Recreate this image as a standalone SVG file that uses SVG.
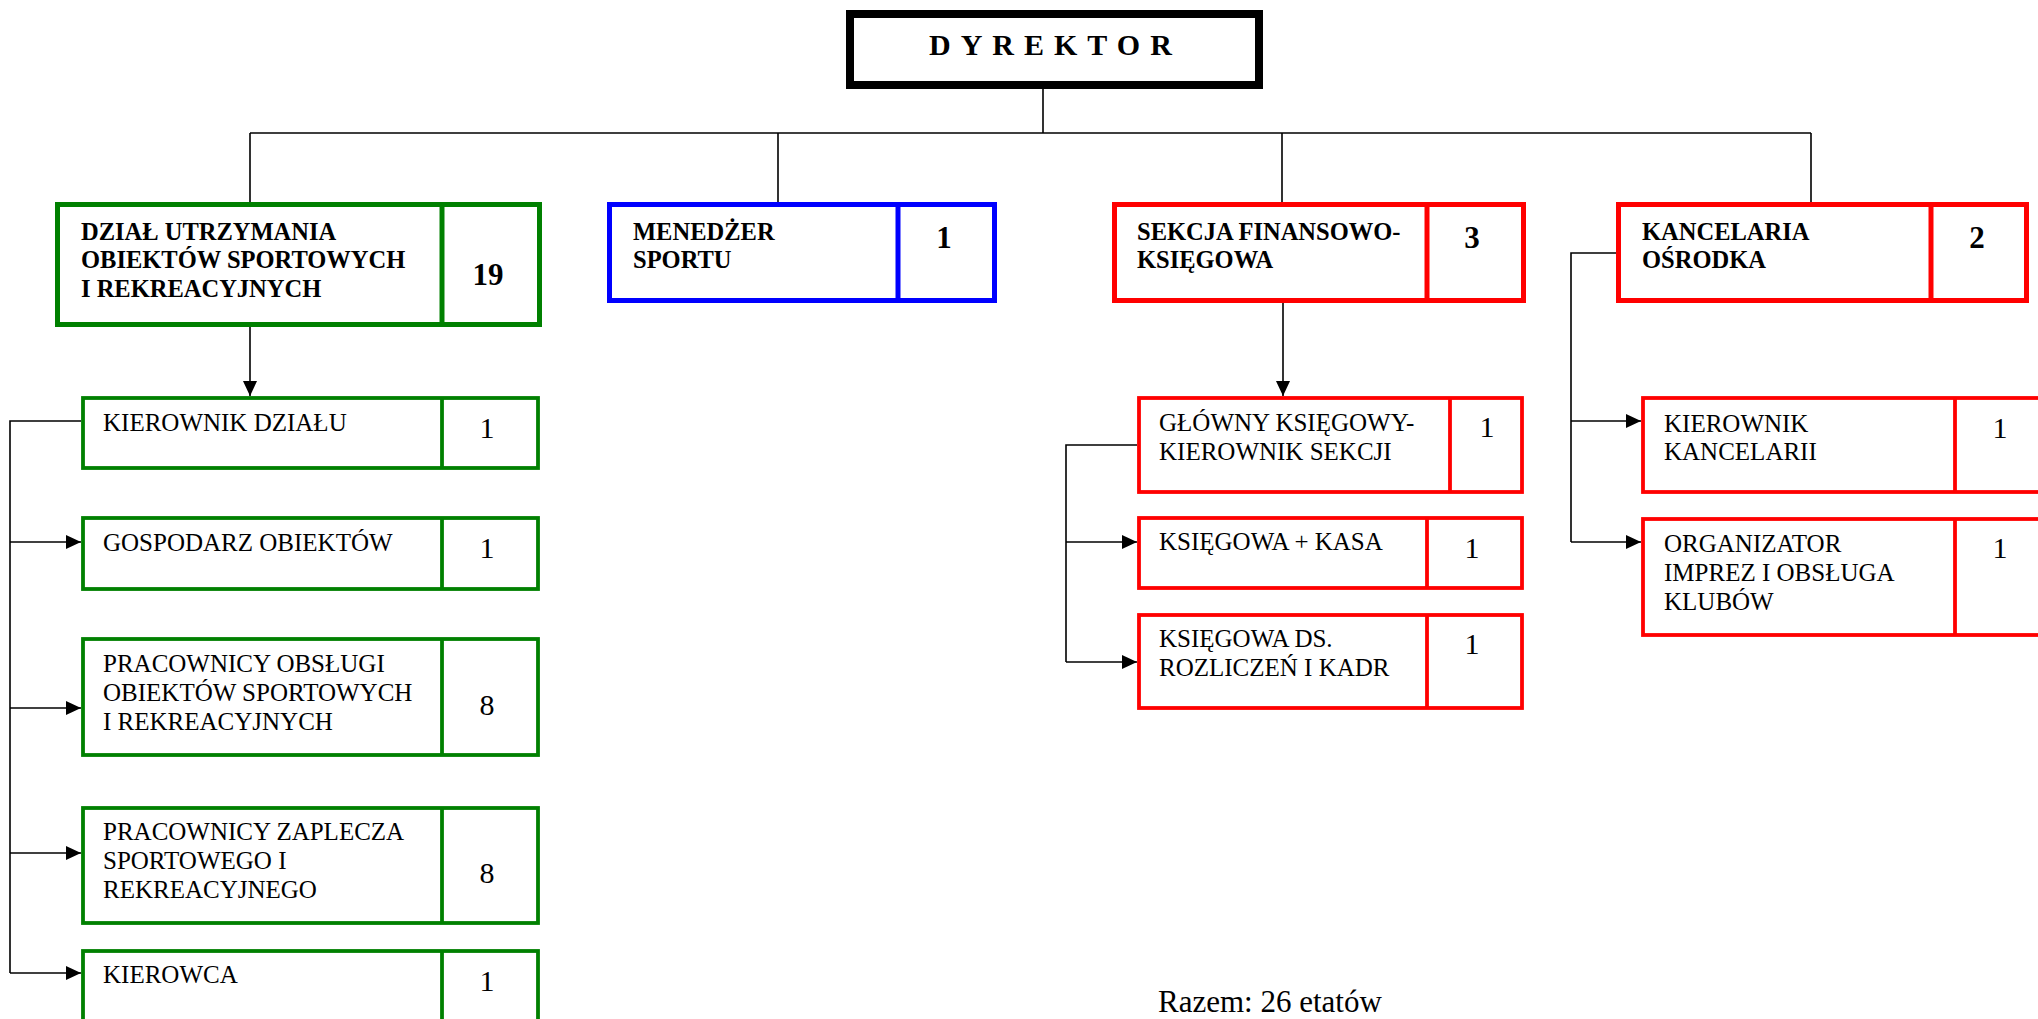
<svg xmlns="http://www.w3.org/2000/svg" width="2038" height="1019" viewBox="0 0 2038 1019">
<defs>
<marker id="arr" markerUnits="userSpaceOnUse" markerWidth="16" markerHeight="16" viewBox="0 0 16 16" refX="15" refY="8" orient="auto">
<path d="M0,1 L15,8 L0,15 Z" fill="#000"/>
</marker>
<style>
.top{fill:#fff;stroke-width:5}
.sub{fill:#fff;stroke-width:3.8}
.g{stroke:#008000}
.b{stroke:#0000ff}
.r{stroke:#ff0000}
.hd{font-family:"Liberation Serif",serif;font-weight:bold;font-size:24.5px;fill:#000}
.tx{font-family:"Liberation Serif",serif;font-size:25px;fill:#000}
.nb{font-family:"Liberation Serif",serif;font-weight:bold;font-size:31px;fill:#000;text-anchor:middle}
.nr{font-family:"Liberation Serif",serif;font-size:30px;fill:#000;text-anchor:middle}
.ln{fill:none;stroke:#000;stroke-width:1.6}
</style>
</defs>
<rect width="2038" height="1019" fill="#fff"/>

<g id="connectors">
<path class="ln" d="M1043,89 V133 M250,133 H1811 M250,133 V202 M778,133 V202 M1282,133 V202 M1811,133 V202"/>
<path class="ln" d="M250,327 V396" marker-end="url(#arr)"/>
<path class="ln" d="M81,421 H10 V973"/>
<path class="ln" d="M10,542 H81" marker-end="url(#arr)"/>
<path class="ln" d="M10,708 H81" marker-end="url(#arr)"/>
<path class="ln" d="M10,853 H81" marker-end="url(#arr)"/>
<path class="ln" d="M10,973 H81" marker-end="url(#arr)"/>
<path class="ln" d="M1283,303 V396" marker-end="url(#arr)"/>
<path class="ln" d="M1137,445 H1066 V662"/>
<path class="ln" d="M1066,542 H1137" marker-end="url(#arr)"/>
<path class="ln" d="M1066,662 H1137" marker-end="url(#arr)"/>
<path class="ln" d="M1616,253 H1571 V542"/>
<path class="ln" d="M1571,421 H1641" marker-end="url(#arr)"/>
<path class="ln" d="M1571,542 H1641" marker-end="url(#arr)"/>
</g>

<g id="dyrektor">
<rect x="850" y="14" width="409" height="71" fill="#fff" stroke="#000" stroke-width="8"/>
<text x="929" y="55" font-family="Liberation Serif,serif" font-weight="bold" font-size="30" letter-spacing="10">DYREKTOR</text>
</g>

<g id="dzial">
<rect class="top g" x="57.5" y="204.5" width="482" height="120"/>
<line class="g" x1="442" y1="204" x2="442" y2="325" stroke-width="5"/>
<text class="hd" x="81" y="240">DZIAŁ UTRZYMANIA</text>
<text class="hd" x="81" y="268">OBIEKTÓW SPORTOWYCH</text>
<text class="hd" x="81" y="297">I REKREACYJNYCH</text>
<text class="nb" x="488" y="285">19</text>
</g>

<g id="menedzer">
<rect class="top b" x="609.5" y="204.5" width="385" height="96"/>
<line class="b" x1="898" y1="204" x2="898" y2="301" stroke-width="5"/>
<text class="hd" x="633" y="240">MENEDŻER</text>
<text class="hd" x="633" y="268">SPORTU</text>
<text class="nb" x="944" y="248">1</text>
</g>

<g id="sekcja">
<rect class="top r" x="1114.5" y="204.5" width="409" height="96"/>
<line class="r" x1="1427" y1="204" x2="1427" y2="301" stroke-width="5"/>
<text class="hd" x="1137" y="240">SEKCJA FINANSOWO-</text>
<text class="hd" x="1137" y="268">KSIĘGOWA</text>
<text class="nb" x="1472" y="248">3</text>
</g>

<g id="kancelaria">
<rect class="top r" x="1618.5" y="204.5" width="408" height="96"/>
<line class="r" x1="1931" y1="204" x2="1931" y2="301" stroke-width="5"/>
<text class="hd" x="1642" y="240">KANCELARIA</text>
<text class="hd" x="1642" y="268">OŚRODKA</text>
<text class="nb" x="1977" y="248">2</text>
</g>

<g id="kierownik-dzialu">
<rect class="sub g" x="83" y="398" width="455" height="70"/>
<line class="g" x1="442" y1="398" x2="442" y2="468" stroke-width="3.8"/>
<text class="tx" x="103" y="431">KIEROWNIK DZIAŁU</text>
<text class="nr" x="487" y="438">1</text>
</g>

<g id="gospodarz">
<rect class="sub g" x="83" y="518" width="455" height="71"/>
<line class="g" x1="442" y1="518" x2="442" y2="589" stroke-width="3.8"/>
<text class="tx" x="103" y="551">GOSPODARZ OBIEKTÓW</text>
<text class="nr" x="487" y="558">1</text>
</g>

<g id="pracownicy-obslugi">
<rect class="sub g" x="83" y="639" width="455" height="116"/>
<line class="g" x1="442" y1="639" x2="442" y2="755" stroke-width="3.8"/>
<text class="tx" x="103" y="672">PRACOWNICY OBSŁUGI</text>
<text class="tx" x="103" y="701">OBIEKTÓW SPORTOWYCH</text>
<text class="tx" x="103" y="730">I REKREACYJNYCH</text>
<text class="nr" x="487" y="715">8</text>
</g>

<g id="pracownicy-zaplecza">
<rect class="sub g" x="83" y="808" width="455" height="115"/>
<line class="g" x1="442" y1="808" x2="442" y2="923" stroke-width="3.8"/>
<text class="tx" x="103" y="840">PRACOWNICY ZAPLECZA</text>
<text class="tx" x="103" y="869">SPORTOWEGO I</text>
<text class="tx" x="103" y="898">REKREACYJNEGO</text>
<text class="nr" x="487" y="883">8</text>
</g>

<g id="kierowca">
<rect class="sub g" x="83" y="951" width="455" height="100"/>
<line class="g" x1="442" y1="951" x2="442" y2="1051" stroke-width="3.8"/>
<text class="tx" x="103" y="983">KIEROWCA</text>
<text class="nr" x="487" y="991">1</text>
</g>

<g id="glowny-ksiegowy">
<rect class="sub r" x="1139" y="398" width="383" height="94"/>
<line class="r" x1="1450" y1="398" x2="1450" y2="492" stroke-width="3.8"/>
<text class="tx" x="1159" y="431">GŁÓWNY KSIĘGOWY-</text>
<text class="tx" x="1159" y="460">KIEROWNIK SEKCJI</text>
<text class="nr" x="1487" y="437">1</text>
</g>

<g id="ksiegowa-kasa">
<rect class="sub r" x="1139" y="518" width="383" height="70"/>
<line class="r" x1="1427" y1="518" x2="1427" y2="588" stroke-width="3.8"/>
<text class="tx" x="1159" y="550">KSIĘGOWA + KASA</text>
<text class="nr" x="1472" y="558">1</text>
</g>

<g id="ksiegowa-kadr">
<rect class="sub r" x="1139" y="615" width="383" height="93"/>
<line class="r" x1="1427" y1="615" x2="1427" y2="708" stroke-width="3.8"/>
<text class="tx" x="1159" y="647">KSIĘGOWA DS.</text>
<text class="tx" x="1159" y="676">ROZLICZEŃ I KADR</text>
<text class="nr" x="1472" y="654">1</text>
</g>

<g id="kierownik-kancelarii">
<rect class="sub r" x="1643" y="398" width="420" height="94"/>
<line class="r" x1="1955" y1="398" x2="1955" y2="492" stroke-width="3.8"/>
<text class="tx" x="1664" y="432">KIEROWNIK</text>
<text class="tx" x="1664" y="460">KANCELARII</text>
<text class="nr" x="2000" y="438">1</text>
</g>

<g id="organizator">
<rect class="sub r" x="1643" y="519" width="420" height="116"/>
<line class="r" x1="1955" y1="519" x2="1955" y2="635" stroke-width="3.8"/>
<text class="tx" x="1664" y="552">ORGANIZATOR</text>
<text class="tx" x="1664" y="581">IMPREZ I OBSŁUGA</text>
<text class="tx" x="1664" y="610">KLUBÓW</text>
<text class="nr" x="2000" y="558">1</text>
</g>

<g id="razem">
<text x="1158" y="1012" font-family="Liberation Serif,serif" font-size="31">Razem: 26 etatów</text>
</g>
</svg>
